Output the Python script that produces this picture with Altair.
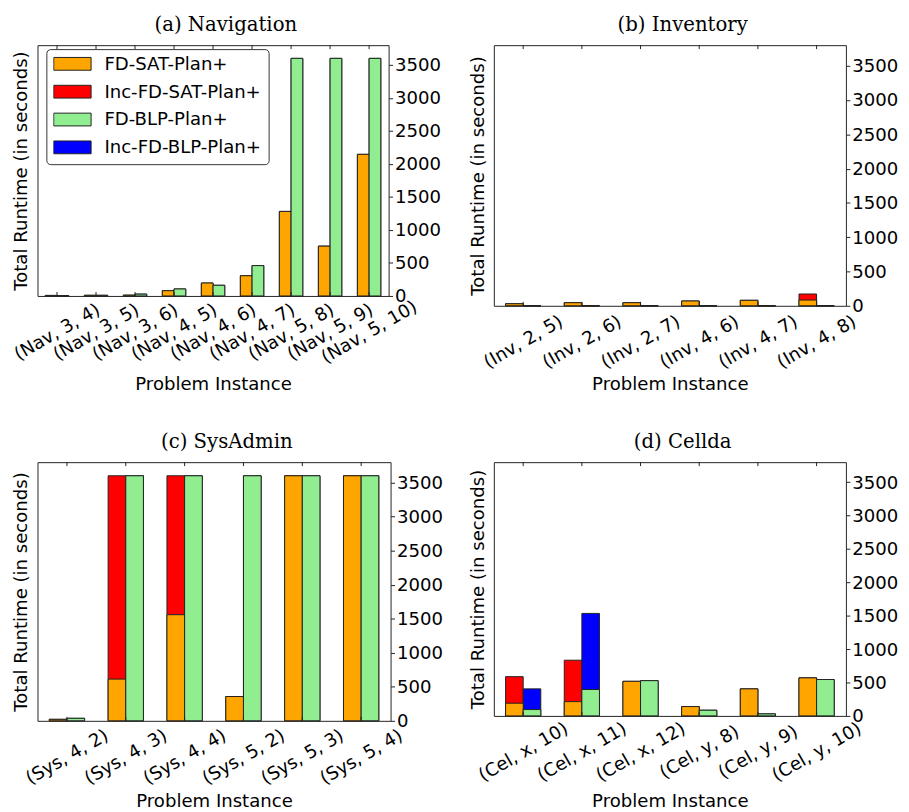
import altair as alt
import pandas as pd

SERIES = ["FD-SAT-Plan+", "Inc-FD-SAT-Plan+", "FD-BLP-Plan+", "Inc-FD-BLP-Plan+"]
COLORS = ["#FFA500", "#FF0000", "#90EE90", "#0000FF"]
Y_TICKS = [0, 500, 1000, 1500, 2000, 2500, 3000, 3500]
TITLES = ["(a) Navigation", "(b) Inventory", "(c) SysAdmin", "(d) Cellda"]

# (a) Navigation
nav_instances = ["(Nav, 3, 4)", "(Nav, 3, 5)", "(Nav, 3, 6)", "(Nav, 4, 5)", "(Nav, 4, 6)",
                 "(Nav, 4, 7)", "(Nav, 5, 8)", "(Nav, 5, 9)", "(Nav, 5, 10)"]
nav_fd_sat = [8, 10, 12, 80, 196, 306, 1281, 755, 2146]
nav_inc_sat = [8, 10, 12, 80, 196, 306, 1281, 755, 2146]
nav_fd_blp = [6, 10, 28, 106, 162, 460, 3600, 3600, 3600]
nav_inc_blp = [6, 10, 28, 106, 162, 460, 3600, 3600, 3600]

# (b) Inventory
inv_instances = ["(Inv, 2, 5)", "(Inv, 2, 6)", "(Inv, 2, 7)", "(Inv, 4, 6)", "(Inv, 4, 7)", "(Inv, 4, 8)"]
inv_fd_sat = [30, 45, 45, 70, 80, 84]
inv_inc_sat = [30, 45, 45, 70, 80, 172]
inv_fd_blp = [0, 0, 0, 0, 0, 0]
inv_inc_blp = [0, 0, 0, 0, 0, 0]

# (c) SysAdmin
sys_instances = ["(Sys, 4, 2)", "(Sys, 4, 3)", "(Sys, 4, 4)", "(Sys, 5, 2)", "(Sys, 5, 3)", "(Sys, 5, 4)"]
sys_fd_sat = [22, 613, 1559, 357, 3600, 3600]
sys_inc_sat = [22, 3600, 3600, 357, 3600, 3600]
sys_fd_blp = [37, 3600, 3600, 3600, 3600, 3600]
sys_inc_blp = [37, 3600, 3600, 3600, 3600, 3600]

# (d) Cellda
cel_instances = ["(Cel, x, 10)", "(Cel, x, 11)", "(Cel, x, 12)", "(Cel, y, 8)", "(Cel, y, 9)", "(Cel, y, 10)"]
cel_fd_sat = [190, 214, 518, 140, 405, 570]
cel_inc_sat = [588, 834, 518, 140, 405, 570]
cel_fd_blp = [95, 395, 528, 85, 30, 545]
cel_inc_blp = [405, 1535, 528, 85, 30, 545]

FS = 18.4


def panel_df(instances, fd_sat, inc_sat, fd_blp, inc_blp):
    rows = []
    for vals, alg, series, z in [(inc_sat, "SAT", SERIES[1], 0), (inc_blp, "BLP", SERIES[3], 0),
                                 (fd_sat, "SAT", SERIES[0], 1), (fd_blp, "BLP", SERIES[2], 1)]:
        for inst, v in zip(instances, vals):
            rows.append({"instance": inst, "alg": alg, "series": series, "value": v, "z": z})
    return pd.DataFrame(rows)


def make_panel(df, instances, title, W, H, title_y, legend):
    xscale = alt.Scale(type="band", paddingInner=0.4, paddingOuter=0.2)
    bars = alt.Chart(df).mark_bar(stroke="#222222", strokeWidth=1, opacity=1).encode(
        x=alt.X("instance:N", sort=instances, scale=xscale,
                axis=alt.Axis(title="Problem Instance", labelAngle=-30, labelAlign="center",
                              labelBaseline="middle", labelPadding=36, ticks=False,
                              domain=False, grid=False, labelOverlap=False,
                              labelFontSize=FS, titleFontSize=FS, titleFontWeight="normal",
                              titleBaseline="alphabetic", titleY=title_y, titleX=W / 2,
                              titleAlign="center")),
        xOffset=alt.XOffset("alg:N", sort=["SAT", "BLP"],
                            scale=alt.Scale(type="band", domain=["SAT", "BLP"],
                                            paddingInner=0, paddingOuter=0)),
        y=alt.Y("value:Q", stack=None,
                scale=alt.Scale(domain=[0, 3800], nice=False, zero=True),
                axis=alt.Axis(orient="right", values=Y_TICKS, format="d", labelFontSize=FS,
                              tickSize=4, labelPadding=2, domain=False, grid=False,
                              title="Total Runtime (in seconds)", titleFontSize=FS,
                              titleFontWeight="normal", titleAngle=270, titleX=-(W + 7),
                              titleY=H / 2, titleAlign="center", titleBaseline="bottom")),
        color=alt.Color("series:N", scale=alt.Scale(domain=SERIES, range=COLORS), legend=legend),
        order=alt.Order("z:Q"),
    )
    tick_df = pd.DataFrame({"instance": instances})
    top = alt.Chart(tick_df).mark_rule(color="#222222", strokeWidth=1).encode(
        x=alt.X("instance:N", sort=instances, scale=xscale),
        y=alt.value(0), y2=alt.value(4))
    bottom = alt.Chart(tick_df).mark_rule(color="#222222", strokeWidth=1).encode(
        x=alt.X("instance:N", sort=instances, scale=xscale),
        y=alt.value(H - 4), y2=alt.value(H))
    ttl = alt.Chart(pd.DataFrame({"t": [title]})).mark_text(
        font="DejaVu Serif", fontSize=20, baseline="alphabetic", align="center", color="black"
    ).encode(text="t:N", x=alt.value(W / 2 + 13), y=alt.value(-14))
    return alt.layer(bars, top, bottom, ttl).properties(width=W, height=H)


legend_a = alt.Legend(
    orient="none", legendX=9, legendY=4, title=None,
    symbolType="M-1,-0.342H1V0.342H-1Z", symbolSize=1444, symbolStrokeColor="#222222",
    symbolStrokeWidth=1, symbolOpacity=1, labelFontSize=FS, labelFont="DejaVu Sans",
    labelColor="black", labelOffset=13, clipHeight=16, rowPadding=9.3, padding=7,
    strokeColor="#333333", fillColor="white", cornerRadius=4, labelLimit=400,
)

pa = make_panel(panel_df(nav_instances, nav_fd_sat, nav_inc_sat, nav_fd_blp, nav_inc_blp),
                nav_instances, TITLES[0], 357, 255, 95, legend_a)
pb = make_panel(panel_df(inv_instances, inv_fd_sat, inv_inc_sat, inv_fd_blp, inv_inc_blp),
                inv_instances, TITLES[1], 358, 265, 85, None)
pc = make_panel(panel_df(sys_instances, sys_fd_sat, sys_inc_sat, sys_fd_blp, sys_inc_blp),
                sys_instances, TITLES[2], 359, 263, 87, None)
pd_ = make_panel(panel_df(cel_instances, cel_fd_sat, cel_inc_sat, cel_fd_blp, cel_inc_blp),
                 cel_instances, TITLES[3], 358, 258, 92, None)

chart = alt.concat(pa, pb, pc, pd_, columns=2, spacing=alt.RowColnumber(row=159, column=105),
                   bounds="flush").resolve_legend(color="independent").resolve_scale(
    xOffset="independent"
).properties(
    padding={"left": 2, "top": 0, "right": 2, "bottom": 0}
).configure(font="DejaVu Sans").configure_view(
    stroke="#222222", strokeWidth=1
).configure_axis(
    labelFont="DejaVu Sans", titleFont="DejaVu Sans", labelColor="black", titleColor="black",
    tickColor="#222222"
).configure_legend(
    labelFont="DejaVu Sans", labelFontSize=FS, labelColor="black"
)

chart.save("out.html", embed_options={"renderer": "svg", "actions": False})
